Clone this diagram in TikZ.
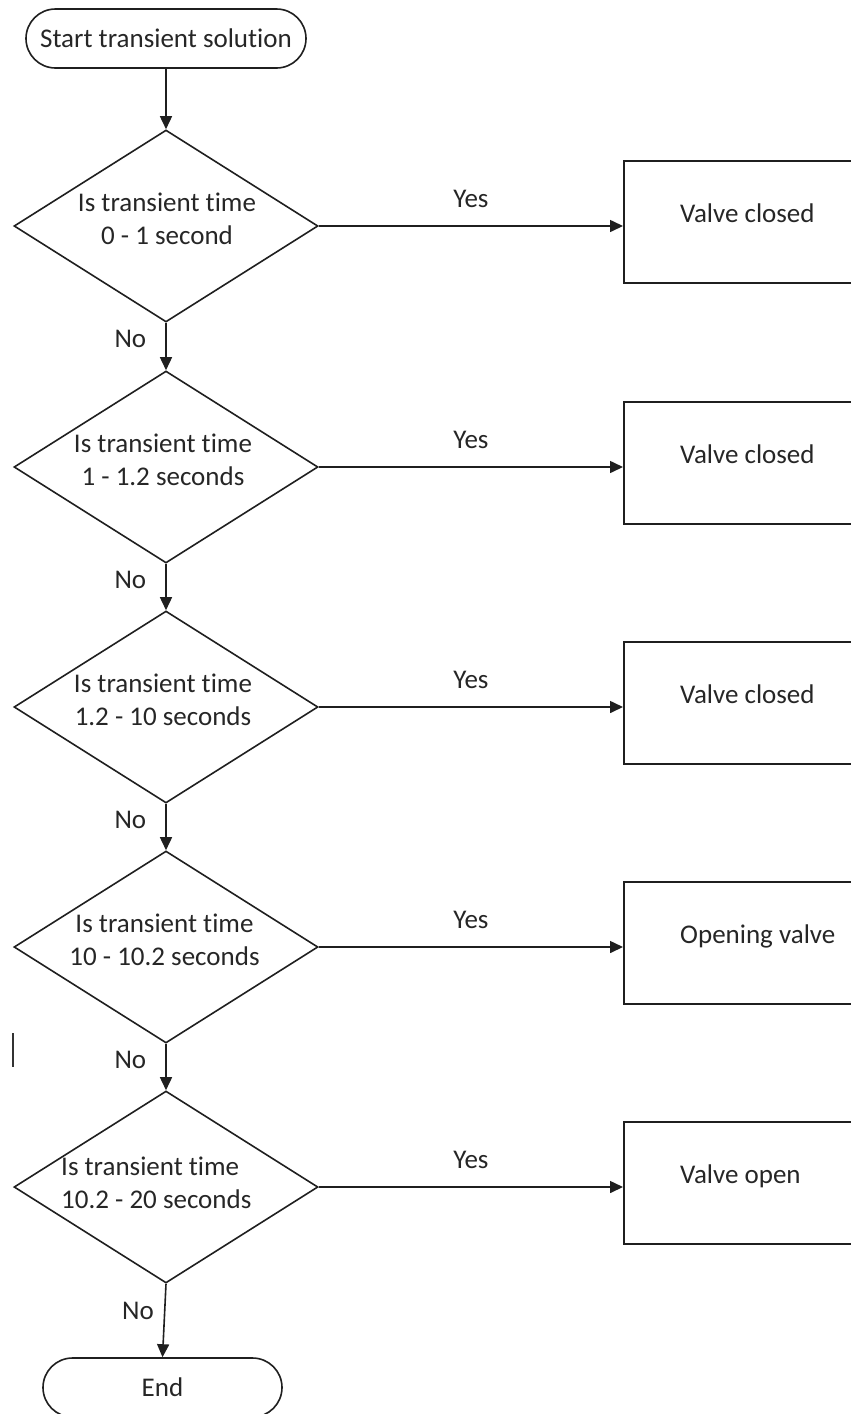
\documentclass[tikz,border=0pt]{standalone}
\usepackage{fontspec}
\setmainfont{Carlito}[Ligatures=NoCommon]
\usetikzlibrary{arrows.meta,calc,shapes.geometric}

\begin{document}
\begin{tikzpicture}[x=1pt,y=-1pt,
  every node/.style={font=\fontsize{27}{33}\selectfont, text=black!85},
  line/.style={line width=1.6pt, draw=black!88},
  flow/.style={line, -{Triangle[length=13pt,width=12pt]}},
  terminal/.style={line, rectangle, rounded corners=29.5pt, minimum width=#1,
    minimum height=59pt, inner sep=0pt},
  decision/.style={line, diamond, minimum width=304pt, minimum height=192pt,
    inner sep=0pt},
  process/.style={line, rectangle, anchor=north west, minimum width=280pt,
    minimum height=122pt, inner sep=0pt},
  question/.style={align=center, inner sep=0pt},
  action/.style={anchor=base west, inner sep=0pt},
  yes/.style={midway, above=18pt, inner sep=0pt},
  no/.style={pos=#1, anchor=east, inner sep=0pt},
]
\useasboundingbox (0,0) rectangle (851,1414);
\clip (0,0) rectangle (851,1414);

% terminals
\node[terminal=280pt] (start) at (166,38.5) {Start transient solution};
\node[terminal=239pt] (end) at (162.5,1387.5) {End};

% decisions
\node[decision] (d1) at (166,226) {};
\node[decision] (d2) at (166,467) {};
\node[decision] (d3) at (166,707) {};
\node[decision] (d4) at (166,947) {};
\node[decision] (d5) at (166,1187) {};

\node[question] (q1) at (167,219) {Is transient time\\0 - 1 second};
\node[question] (q2) at (163,460) {Is transient time\\1 - 1.2 seconds};
\node[question] (q3) at (163,700) {Is transient time\\1.2 - 10 seconds};
\node[question] (q4) at (164.5,940) {Is transient time\\10 - 10.2 seconds};
\node[question, align=left, anchor=west] (q5) at (61,1183) {Is transient time\\10.2 - 20 seconds};

% actions
\node[process] (b1) at (623,160) {};
\node[process] (b2) at (623,401) {};
\node[process] (b3) at (623,641) {};
\node[process] (b4) at (623,881) {};
\node[process] (b5) at (623,1121) {};

\node[action] (a1) at ($(b1.north west)+(57,62)$) {Valve closed};
\node[action] (a2) at ($(b2.north west)+(57,62)$) {Valve closed};
\node[action] (a3) at ($(b3.north west)+(57,62)$) {Valve closed};
\node[action] (a4) at ($(b4.north west)+(57,62)$) {Opening valve};
\node[action] (a5) at ($(b5.north west)+(57,62)$) {Valve open};

% main flow
\draw[flow] (start) -- (d1.north);
\draw[flow] (d1.south) -- node[no=0.35, xshift=-19pt] {No} (d2.north);
\draw[flow] (d2.south) -- node[no=0.35, xshift=-19pt] {No} (d3.north);
\draw[flow] (d3.south) -- node[no=0.35, xshift=-19pt] {No} (d4.north);
\draw[flow] (d4.south) -- node[no=0.35, xshift=-19pt] {No} (d5.north);
\draw[flow] (d5.south) -- node[no=0.37, xshift=-10pt] {No} (end.north);

% yes branches
\draw[flow] (d1.east) -- node[yes] {Yes} (d1.east -| b1.west);
\draw[flow] (d2.east) -- node[yes] {Yes} (d2.east -| b2.west);
\draw[flow] (d3.east) -- node[yes] {Yes} (d3.east -| b3.west);
\draw[flow] (d4.east) -- node[yes] {Yes} (d4.east -| b4.west);
\draw[flow] (d5.east) -- node[yes] {Yes} (d5.east -| b5.west);

% text cursor mark
\draw[line width=1.2pt, black!80] (13,1033) -- (13,1067);
\end{tikzpicture}
\end{document}
